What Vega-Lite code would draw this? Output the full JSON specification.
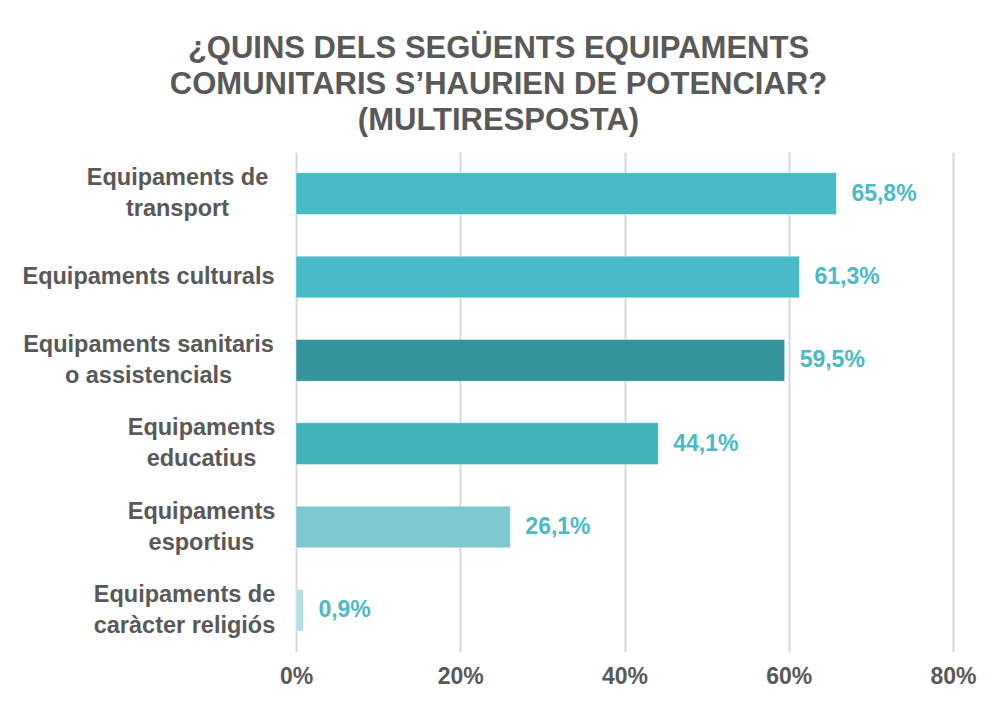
{
  "$schema": "https://vega.github.io/schema/vega-lite/v6.json",
  "autosize": "none",
  "width": 657,
  "height": 500,
  "padding": {"left": 296, "top": 152, "right": 44, "bottom": 52},
  "background": "#ffffff",
  "config": {
    "locale": {"number": {"decimal": ",", "thousands": ".", "grouping": [3], "currency": ["", " €"]}},
    "view": {"stroke": null},
    "font": "Liberation Sans"
  },
  "title": {
    "text": ["¿QUINS DELS SEGÜENTS EQUIPAMENTS", "COMUNITARIS S’HAURIEN DE POTENCIAR?", "(MULTIRESPOSTA)"],
    "font": "Liberation Sans",
    "fontSize": 31,
    "fontWeight": "bold",
    "color": "#595959",
    "lineHeight": 36,
    "anchor": "middle",
    "frame": "group",
    "dx": -126,
    "offset": 15
  },
  "data": {
    "values": [
      {"categoria": "Equipaments de|transport", "valor": 0.658},
      {"categoria": "Equipaments culturals", "valor": 0.613},
      {"categoria": "Equipaments sanitaris|o assistencials", "valor": 0.595},
      {"categoria": "Equipaments|educatius", "valor": 0.441},
      {"categoria": "Equipaments|esportius", "valor": 0.261},
      {"categoria": "Equipaments de|caràcter religiós", "valor": 0.009}
    ]
  },
  "encoding": {
    "y": {
      "field": "categoria",
      "type": "nominal",
      "sort": null,
      "scale": {"paddingInner": 0.5, "paddingOuter": 0.25},
      "axis": {
        "title": null,
        "domain": false,
        "ticks": false,
        "labelExpr": "split(datum.value, '|')",
        "labelFont": "Liberation Sans",
        "labelFontSize": 23.5,
        "labelFontWeight": "bold",
        "labelColor": "#595959",
        "labelLineHeight": 31,
        "labelAlign": "center",
        "labelBaseline": "middle",
        "labelLimit": 400,
        "labelOffset": {
          "condition": {"test": "indexof(datum.value, '|') >= 0", "value": -15.5},
          "value": 0
        },
        "labelPadding": {
          "condition": [
            {"test": "datum.value == 'Equipaments de|transport'", "value": 119},
            {"test": "datum.value == 'Equipaments|educatius' || datum.value == 'Equipaments|esportius'", "value": 95},
            {"test": "datum.value == 'Equipaments de|caràcter religiós'", "value": 112}
          ],
          "value": 148
        }
      }
    },
    "x": {
      "field": "valor",
      "type": "quantitative",
      "scale": {"domain": [0, 0.8], "nice": false},
      "axis": {
        "title": null,
        "format": ".0%",
        "values": [0, 0.2, 0.4, 0.6, 0.8],
        "domain": false,
        "ticks": false,
        "grid": true,
        "gridColor": "#D9D9D9",
        "gridWidth": 2,
        "labelFlush": false,
        "labelFont": "Liberation Sans",
        "labelFontSize": 23,
        "labelFontWeight": "bold",
        "labelColor": "#595959",
        "labelPadding": 13
      }
    }
  },
  "layer": [
    {
      "mark": {"type": "bar", "stroke": "#ffffff", "strokeOpacity": 0.4, "strokeWidth": 1},
      "encoding": {
        "color": {
          "field": "categoria",
          "type": "nominal",
          "legend": null,
          "scale": {
            "domain": ["Equipaments de|transport", "Equipaments culturals", "Equipaments sanitaris|o assistencials", "Equipaments|educatius", "Equipaments|esportius", "Equipaments de|caràcter religiós"],
            "range": ["#47BBC6", "#47BBC6", "#35939B", "#3EB1B9", "#7CC9CF", "#B5DFE2"]
          }
        }
      }
    },
    {
      "mark": {"type": "text", "align": "left", "baseline": "middle", "dx": 15, "font": "Liberation Sans", "fontSize": 23, "fontWeight": "bold", "color": "#4ABCC7"},
      "encoding": {
        "text": {"field": "valor", "type": "quantitative", "format": ".1%"}
      }
    }
  ]
}
